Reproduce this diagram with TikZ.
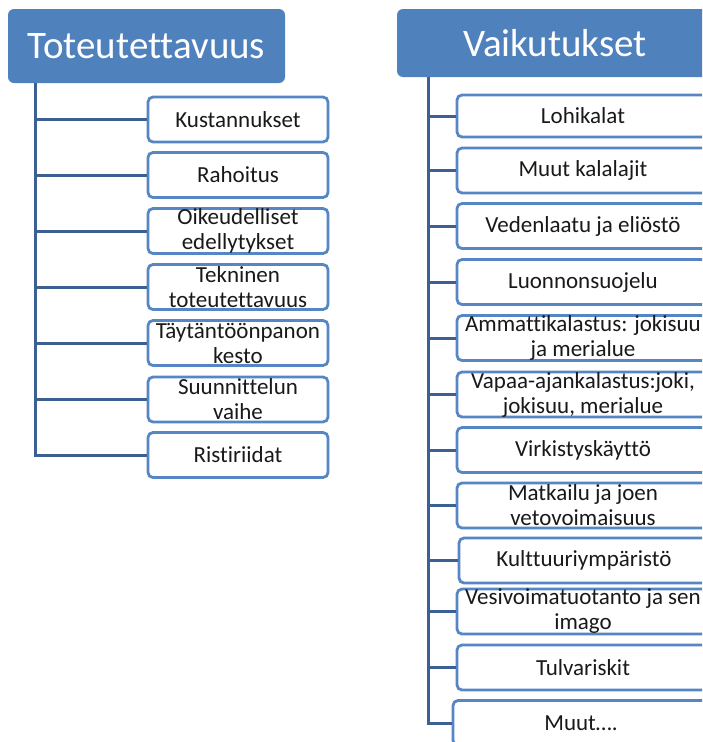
\documentclass[tikz,border=0pt]{standalone}
\usepackage{fontspec}
\setmainfont{Carlito}[Ligatures={NoCommon}]
\definecolor{hdrblue}{RGB}{79,129,189}
\definecolor{boxblue}{RGB}{86,134,196}
\definecolor{connblue}{RGB}{60,96,146}
\definecolor{txt}{RGB}{25,25,25}
\tikzset{
  hdr/.style={fill=hdrblue, draw=none, rounded corners=6pt, text=white,
    font=\fontsize{39}{44}\selectfont, inner sep=0pt},
  leaf/.style={draw=boxblue, line width=2.8pt, fill=white, rounded corners=5pt,
    minimum height=45pt, inner sep=0pt, align=center, text=txt,
    font=\fontsize{23}{25}\selectfont},
  lleaf/.style={leaf, minimum width=180pt},
  rleaf/.style={leaf, minimum width=252pt},
  conn/.style={draw=connblue, line width=3pt},
}
\begin{document}
\begin{tikzpicture}[x=1pt,y=-1pt]
\useasboundingbox (0,0) rectangle (702,742);
\clip (0,0) rectangle (702,742);
\fill[white] (0,0) rectangle (702,742);
% headers
\node[hdr, minimum width=277pt, minimum height=74pt] (lh) at (146.5,46) {Toteutettavuus};
\node[hdr, minimum width=316pt, minimum height=68pt] (rh) at (555,43) {Vaikutukset};
% trunks
\coordinate (lt) at (35,83);
\coordinate (rt) at (428,77);
% left leaves
\node[lleaf] (l1) at (238,119.5) {Kustannukset};
\node[lleaf] (l2) at (238,175) {Rahoitus};
\node[lleaf] (l3) at (238,231) {Oikeudelliset\\edellytykset};
\node[lleaf] (l4) at (238,287) {Tekninen\\toteutettavuus};
\node[lleaf] (l5) at (238,343) {Täytäntöönpanon\\kesto};
\node[lleaf] (l6) at (238,399.5) {Suunnittelun\\vaihe};
\node[lleaf] (l7) at (238,455) {Ristiriidat};
% right leaves
\node[rleaf, minimum height=42pt] (r1) at (583,116) {Lohikalat};
\node[rleaf] (r2) at (583,170.5) {Muut kalalajit};
\node[rleaf] (r3) at (583,226) {Vedenlaatu ja eliöstö};
\node[rleaf] (r4) at (583,282) {Luonnonsuojelu};
\node[rleaf] (r5) at (583,338) {Ammattikalastus: jokisuu\\ja merialue};
\node[rleaf] (r6) at (583,394.5) {Vapaa-ajankalastus:joki,\\jokisuu, merialue};
\node[rleaf] (r7) at (583,450) {Virkistyskäyttö};
\node[rleaf] (r8) at (583,505.5) {Matkailu ja joen\\vetovoimaisuus};
\node[rleaf, minimum width=250pt] (r9) at (584,560.5) {Kulttuuriympäristö};
\node[rleaf] (r10) at (583,611.5) {Vesivoimatuotanto ja sen\\imago};
\node[rleaf] (r11) at (583,667.5) {Tulvariskit};
\node[rleaf, minimum width=256pt] (r12) at (581,723) {Muut….};
% connectors
\draw[conn] (lt) |- (l7.west);
\foreach \n in {l1,l2,l3,l4,l5,l6}{\draw[conn] (lt |- \n.west) -- (\n.west);}
\draw[conn] (rt) |- (r12.west);
\foreach \n in {r1,r2,r3,r4,r5,r6,r7,r8,r9,r10,r11}{\draw[conn] (rt |- \n.west) -- (\n.west);}
\end{tikzpicture}
\end{document}
